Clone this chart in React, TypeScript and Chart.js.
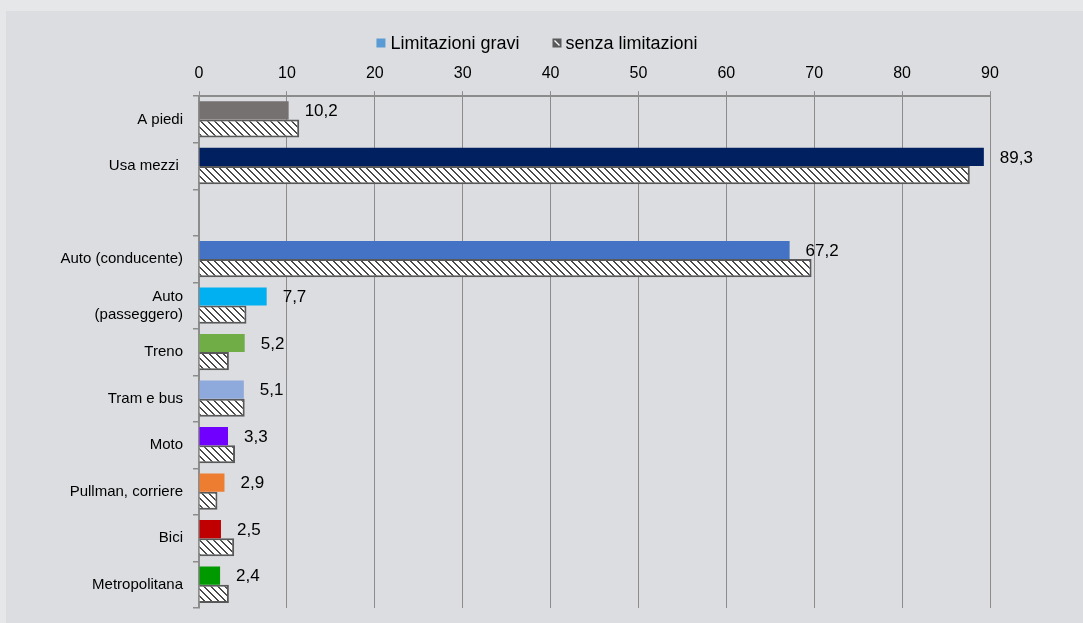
import React, { useEffect, useRef } from "react";
import { Chart, registerables } from "chart.js";

Chart.register(...registerables);

const categories: (string | string[])[] = [
  "A piedi",
  "Usa mezzi ",
  "",
  "Auto (conducente)",
  ["Auto", "(passeggero)"],
  "Treno",
  "Tram e bus",
  "Moto",
  "Pullman, corriere",
  "Bici",
  "Metropolitana",
];

const limitazioniGravi: (number | null)[] = [10.2, 89.3, null, 67.2, 7.7, 5.2, 5.1, 3.3, 2.9, 2.5, 2.4];
const senzaLimitazioni: (number | null)[] = [11.4, 87.7, null, 69.7, 5.4, 3.4, 5.2, 4.1, 2.1, 4.0, 3.4];

const barColors: string[] = [
  "#767171",
  "#002060",
  "#000000",
  "#4472C4",
  "#00B0F0",
  "#70AD47",
  "#8EA9DB",
  "#7000FF",
  "#ED7D31",
  "#C00000",
  "#009900",
];

const seriesNames: string[] = ["Limitazioni gravi", "senza limitazioni"];
const legendColor = "#5B9BD5";
const xTicks = { min: 0, max: 90, step: 10 };

function makeHatch(dark: string): CanvasPattern | string {
  const c = document.createElement("canvas");
  const n = 7;
  c.width = n;
  c.height = n;
  const g = c.getContext("2d");
  if (!g) return "#ffffff";
  g.fillStyle = "#ffffff";
  g.fillRect(0, 0, n, n);
  g.fillStyle = dark;
  for (let y = 0; y < n; y++) {
    for (let x = 0; x < n; x++) {
      if (((x - y) % n + n) % n < 2) g.fillRect(x, y, 1, 1);
    }
  }
  const p = g.createPattern(c, "repeat");
  return p || "#ffffff";
}

export default function App() {
  const ref = useRef<HTMLCanvasElement | null>(null);

  useEffect(() => {
    if (!ref.current) return;
    const hatch = makeHatch("#4a4a4a");
    const family = "'Liberation Sans', Arial, sans-serif";
    const font = { family, size: 15 };

    const labelPlugin = {
      id: "valueLabels",
      afterDatasetsDraw(chart: any) {
        const ctx = chart.ctx;
        const meta = chart.getDatasetMeta(0);
        ctx.save();
        ctx.font = `17px ${family}`;
        ctx.fillStyle = "#000000";
        ctx.textAlign = "left";
        ctx.textBaseline = "middle";
        meta.data.forEach((bar: any, i: number) => {
          const v = limitazioniGravi[i];
          if (v == null) return;
          ctx.fillText(v.toFixed(1).replace(".", ","), bar.x + 16, bar.y + 1);
        });
        ctx.restore();
      },
    };

    const legendPlugin = {
      id: "customLegend",
      afterDraw(chart: any) {
        const ctx = chart.ctx;
        ctx.save();
        ctx.font = `18px ${family}`;
        ctx.textBaseline = "middle";
        ctx.textAlign = "left";
        const w1 = ctx.measureText(seriesNames[0]).width;
        const w2 = ctx.measureText(seriesNames[1]).width;
        const box = 9;
        const total = box + 5 + w1 + 33 + box + 4 + w2;
        const cy = 32;
        let x = 531 - total / 2;
        ctx.fillStyle = legendColor;
        ctx.fillRect(x, cy - box / 2, box, box);
        x += box + 5;
        ctx.fillStyle = "#000000";
        ctx.fillText(seriesNames[0], x, cy + 1);
        x += w1 + 33;
        ctx.fillStyle = "#5a5a5a";
        ctx.fillRect(x, cy - box / 2, box, box);
        ctx.strokeStyle = "#ffffff";
        ctx.lineWidth = 1.2;
        ctx.beginPath();
        ctx.moveTo(x + 2, cy - box / 2 + 2);
        ctx.lineTo(x + box - 2, cy + box / 2 - 2);
        ctx.stroke();
        x += box + 4;
        ctx.fillStyle = "#000000";
        ctx.fillText(seriesNames[1], x, cy + 1);
        ctx.restore();
      },
    };

    const chart = new Chart(ref.current, {
      type: "bar",
      data: {
        labels: categories,
        datasets: [
          {
            label: seriesNames[0],
            data: limitazioniGravi,
            backgroundColor: barColors,
            borderWidth: 0,
            categoryPercentage: 0.78,
            barPercentage: 1,
          },
          {
            label: seriesNames[1],
            data: senzaLimitazioni,
            backgroundColor: hatch as any,
            borderColor: "#595959",
            borderWidth: 2,
            categoryPercentage: 0.78,
            barPercentage: 1,
          },
        ],
      },
      options: {
        indexAxis: "y",
        animation: false,
        responsive: false,
        maintainAspectRatio: false,
        layout: { padding: { left: 0, right: 93, top: 45, bottom: 15 } },
        plugins: {
          tooltip: { enabled: false },
          legend: { display: false },
        },
        scales: {
          x: {
            type: "linear",
            position: "top",
            min: xTicks.min,
            max: xTicks.max,
            ticks: { stepSize: xTicks.step, color: "#000000", font: { family, size: 16 }, padding: 8 },
            grid: { color: "#8c8c8c", lineWidth: 1, tickLength: 5 },
            border: { color: "#8c8c8c", width: 2 },
          },
          y: {
            type: "category",
            ticks: { color: "#000000", font, padding: 10, autoSkip: false },
            grid: { offset: true, drawOnChartArea: false, tickLength: 6, color: "#8c8c8c", lineWidth: 1.5 },
            border: { color: "#8c8c8c", width: 2 },
            afterFit: (s: any) => {
              s.width = 193;
              s.paddingBottom = 0;
            },
          },
        },
      },
      plugins: [labelPlugin, legendPlugin],
    } as any);

    return () => chart.destroy();
  }, []);

  return (
    <div
      style={{
        position: "absolute",
        left: 0,
        top: 0,
        width: 1083,
        height: 623,
        background: "#e6e7e9",
        overflow: "hidden",
      }}
    >
      <canvas
        ref={ref}
        width={1077}
        height={612}
        style={{ position: "absolute", left: 6, top: 11, width: 1077, height: 612, background: "#dcdde0" }}
      />
    </div>
  );
}
